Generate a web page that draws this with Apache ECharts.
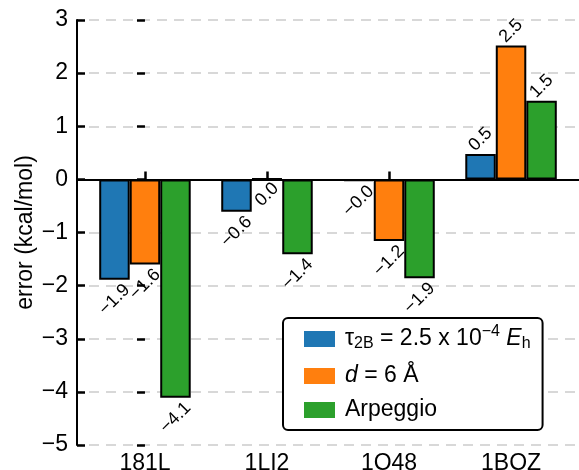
<!DOCTYPE html>
<html>
<head>
<meta charset="utf-8">
<script src="https://cdn.jsdelivr.net/npm/echarts@6/dist/echarts.min.js"></script>
<style>html,body{margin:0;padding:0;background:#fff;}#chart{width:579px;height:470px;}</style>
</head>
<body>
<div id="chart"></div>
<script>
const categories = ['181L', '1LI2', '1O48', '1BOZ'];
const tauValues = [-1.89, -0.61, -0.03, 0.48];
const dValues = [-1.60, 0.01, -1.16, 2.52];
const arpValues = [-4.11, -1.41, -1.86, 1.48];
const seriesNames = ['τ2B = 2.5 x 10−4 Eh', 'd = 6 Å', 'Arpeggio'];
const legendRich = [
  '{n|τ}{sub|2B}{n| = 2.5 x 10}{sup|−4}{n| }{it|E}{sub|h}',
  '{it|d}{n| = 6 Å}',
  '{n|Arpeggio}'
];
const yMin = -5, yMax = 3, yStep = 1;
const colors = ['#1f77b4', '#ff7f0e', '#2ca02c'];
const FONT = '"Liberation Sans", Arial, Helvetica, sans-serif';

function fmt(v) { return v.toFixed(1).replace('-', '\u2212'); }
function fmtTick(v) { return String(v).replace('-', '\u2212'); }

function makeData(vals) {
  return vals.map((v, i) => {
    const t = fmt(v);
    return { value: [i, v], label: { distance: 5.5 * t.length - 2 } };
  });
}

const allValues = [tauValues, dValues, arpValues];
const series = allValues.map((vals, k) => ({
  name: seriesNames[k],
  type: 'bar',
  xAxisIndex: 0,
  yAxisIndex: 0,
  data: makeData(vals),
  barWidth: '25%',
  barGap: '0%',
  itemStyle: { color: colors[k], borderColor: '#000', borderWidth: 2 },
  label: {
    show: true,
    position: 'outside',
    rotate: 45,
    align: 'center',
    verticalAlign: 'middle',
    fontSize: 18,
    fontFamily: FONT,
    color: '#000',
    formatter: p => fmt(p.value[1])
  },
  markLine: k === 0 ? {
    silent: true,
    symbol: ['none', 'none'],
    label: { show: false },
    lineStyle: { color: '#000', width: 2, type: 'solid' },
    data: [{ yAxis: 0 }],
    z: 5
  } : undefined
}));

const xIdx = categories.map((c, i) => i);
const chart = echarts.init(document.getElementById('chart'), null, { renderer: 'canvas' });
chart.setOption({
  animation: false,
  backgroundColor: '#fff',
  color: colors,
  textStyle: { fontFamily: FONT },
  grid: { left: 77, right: 0, top: 20, bottom: 25, containLabel: false, outerBoundsMode: 'none' },
  xAxis: [{
    type: 'value',
    position: 'bottom',
    min: -0.557, max: 3.557,
    axisLine: { show: true, lineStyle: { color: '#000', width: 2 } },
    axisTick: { show: true, inside: true, length: 8, lineStyle: { color: '#000', width: 2.5 }, customValues: xIdx },
    axisLabel: { show: true, customValues: xIdx, formatter: v => categories[v] || '', fontSize: 23, color: '#000', margin: 7, fontFamily: FONT },
    splitLine: { show: false }
  }, {
    type: 'value',
    position: 'top',
    min: -0.557, max: 3.557,
    axisLine: { show: true, lineStyle: { color: '#000', width: 2 } },
    axisTick: { show: false },
    axisLabel: { show: false },
    splitLine: { show: false }
  }],
  yAxis: [{
    type: 'value',
    position: 'left',
    min: yMin, max: yMax, interval: yStep,
    name: 'error (kcal/mol)',
    nameLocation: 'middle',
    nameRotate: 90,
    nameGap: 40,
    nameMoveOverlap: false,
    nameTextStyle: { fontSize: 23, color: '#000', fontFamily: FONT },
    axisLine: { show: true, onZero: false, lineStyle: { color: '#000', width: 2 } },
    axisTick: { show: true, inside: true, length: 8, lineStyle: { color: '#000', width: 2.5 } },
    axisLabel: { fontSize: 23, color: '#000', margin: 9, formatter: fmtTick, fontFamily: FONT },
    splitLine: { show: true, lineStyle: { color: '#cccccc', width: 1.5, type: [10, 7], dashOffset: 5 } }
  }, {
    type: 'value',
    position: 'right',
    min: yMin, max: yMax, interval: yStep,
    axisLine: { show: false },
    axisTick: { show: true, inside: true, length: 8, lineStyle: { color: '#000', width: 2.5 } },
    axisLabel: { show: false },
    splitLine: { show: false }
  }],
  legend: {
    data: seriesNames,
    orient: 'vertical',
    left: 283,
    top: 318,
    padding: [6, 12, 8, 21],
    itemGap: 10,
    itemWidth: 31,
    itemHeight: 16,
    icon: 'rect',
    itemStyle: { borderWidth: 0 },
    borderColor: '#000',
    borderWidth: 2,
    borderRadius: 5,
    backgroundColor: '#fff',
    formatter: name => legendRich[seriesNames.indexOf(name)],
    textStyle: {
      fontSize: 23,
      lineHeight: 24,
      color: '#000',
      fontFamily: FONT,
      padding: [0, 0, 0, 5],
      rich: {
        n: { fontSize: 23, lineHeight: 24, color: '#000', fontFamily: FONT },
        it: { fontSize: 23, lineHeight: 24, color: '#000', fontStyle: 'italic', fontFamily: FONT },
        sub: { fontSize: 16, lineHeight: 24, color: '#000', padding: [10, 0, 0, 0], fontFamily: FONT },
        sup: { fontSize: 16, lineHeight: 24, color: '#000', padding: [0, 0, 14, 0], fontFamily: FONT }
      }
    }
  },
  series: series
});
</script>
</body>
</html>
